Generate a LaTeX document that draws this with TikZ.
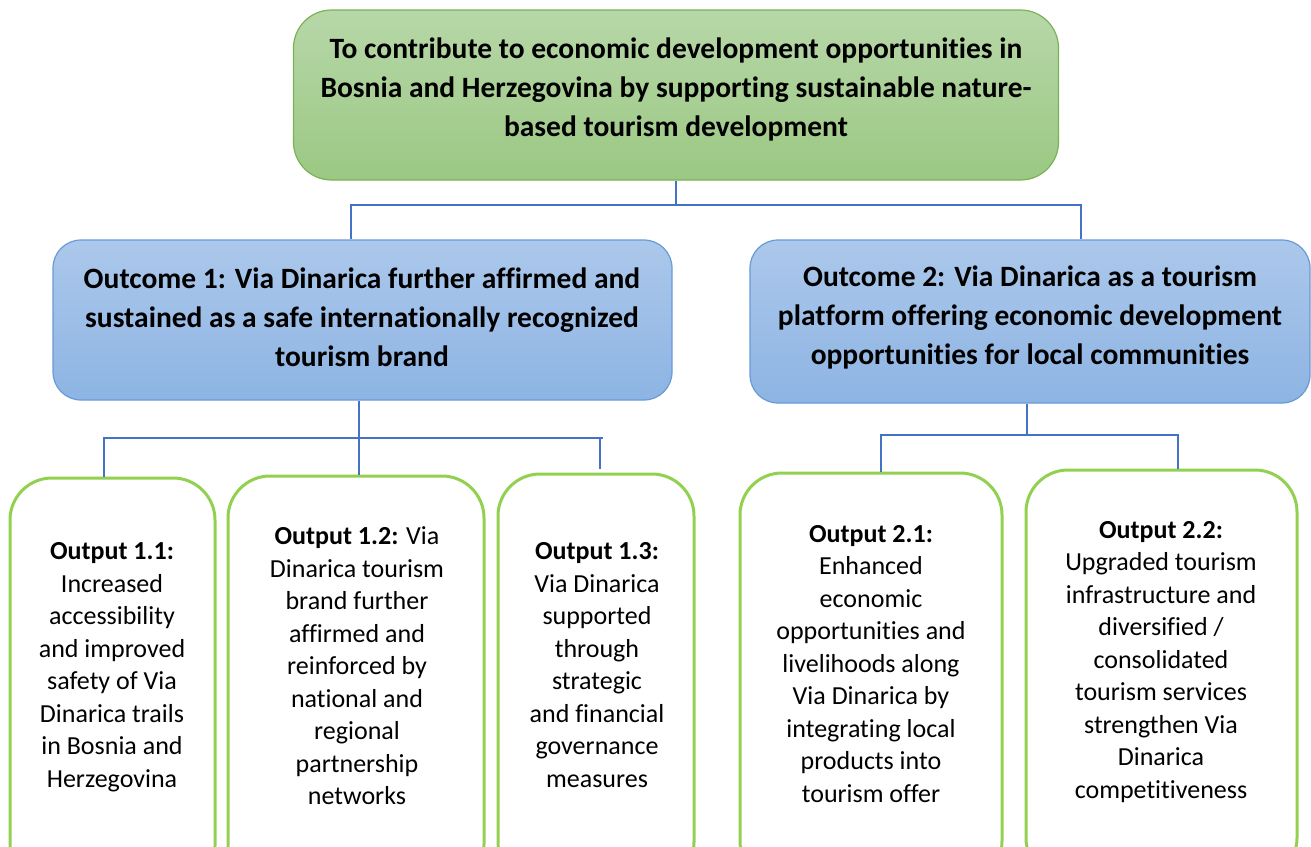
\documentclass[tikz,border=0pt]{standalone}
\usepackage{fontspec}
\setmainfont{Carlito}[Ligatures=NoCommon]
\begin{document}
\begin{tikzpicture}[x=1pt,y=-1pt,
  goalbox/.style={rectangle, rounded corners=38, draw={rgb,255:red,122;green,178;blue,84}, line width=1.2pt,
    top color={rgb,255:red,183;green,215;blue,168}, bottom color={rgb,255:red,155;green,200;blue,131}},
  outbox/.style={rectangle, rounded corners=28, draw={rgb,255:red,104;green,154;blue,214}, line width=1.2pt,
    top color={rgb,255:red,172;green,200;blue,235}, bottom color={rgb,255:red,141;green,180;blue,227}},
  putbox/.style={rectangle, rounded corners=42, draw={rgb,255:red,146;green,208;blue,80}, line width=3pt, fill=white},
  bigtext/.style={align=center, inner sep=0pt, font=\fontsize{29.5}{39}\selectfont\bfseries},
  smalltext/.style={align=center, inner sep=0pt, font=\fontsize{26}{32.5}\selectfont},
  conn/.style={draw={rgb,255:red,68;green,114;blue,196}, line width=1.3pt}
]
\useasboundingbox (0,0) rectangle (1311,846);
\clip (0,0) rectangle (1311,846);

% boxes
\node[goalbox, minimum width=765, minimum height=170] (goal) at (676,95) {};
\node[outbox, minimum width=619, minimum height=160] (oc1) at (362.5,320) {};
\node[outbox, minimum width=560, minimum height=163] (oc2) at (1030,321.5) {};
\node[putbox, minimum width=205, minimum height=410] (p11) at (112.5,683) {};
\node[putbox, minimum width=256, minimum height=410] (p12) at (356,681) {};
\node[putbox, minimum width=196, minimum height=410] (p13) at (596,679) {};
\node[putbox, minimum width=262, minimum height=410] (p21) at (871,678) {};
\node[putbox, minimum width=271, minimum height=410] (p22) at (1161.5,675) {};

% texts
\node[bigtext] (tgoal) at (676,89) {To contribute to economic development opportunities in\\Bosnia and Herzegovina by supporting sustainable nature-\\based tourism development};
\node[bigtext] (toc1) at (362,317) {Outcome 1: Via Dinarica further affirmed and\\sustained as a safe internationally recognized\\tourism brand};
\node[bigtext] (toc2) at (1030,317) {Outcome 2: Via Dinarica as a tourism\\platform offering economic development\\opportunities for local communities};

\node[smalltext] (t11) at (112,667) {\textbf{Output 1.1:}\\Increased\\accessibility\\and improved\\safety of Via\\Dinarica trails\\in Bosnia and\\Herzegovina};
\node[smalltext] (t12) at (357,666) {\textbf{Output 1.2:} Via\\Dinarica tourism\\brand further\\affirmed and\\reinforced by\\national and\\regional\\partnership\\networks};
\node[smalltext] (t13) at (597,665) {\textbf{Output 1.3:}\\Via Dinarica\\supported\\through\\strategic\\and financial\\governance\\measures};
\node[smalltext] (t21) at (871,664) {\textbf{Output 2.1:}\\Enhanced\\economic\\opportunities and\\livelihoods along\\Via Dinarica by\\integrating local\\products into\\tourism offer};
\node[smalltext] (t22) at (1161,662) {\textbf{Output 2.2:}\\Upgraded tourism\\infrastructure and\\diversified /\\consolidated\\tourism services\\strengthen Via\\Dinarica\\competitiveness};

% connectors
\coordinate (j0) at (676,205);
\coordinate (j1) at (359,438);
\coordinate (j2) at (1027,435);
\draw[conn] (goal.south) -- (j0);
\draw[conn] (j0) -| (oc1.north -| 351,0);
\draw[conn] (j0) -| (oc2.north -| 1081,0);

\draw[conn] (oc1.south -| j1) -- (j1);
\draw[conn] (j1) -| (p11.north -| 104,0);
\draw[conn] (j1) -- (p12.north -| j1);
\draw[conn] (j1) -- (603,438);
\coordinate (d13) at (600,469);
\draw[conn] (600,438) -- (d13);

\draw[conn] (oc2.south -| j2) -- (j2);
\draw[conn] (j2) -| (p21.north -| 881,0);
\draw[conn] (j2) -| (p22.north -| 1178,0);
\end{tikzpicture}
\end{document}
